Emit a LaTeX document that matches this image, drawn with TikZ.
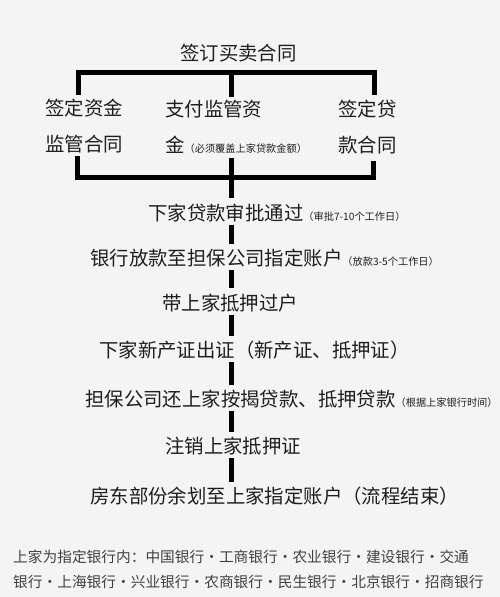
\documentclass[tikz,border=0pt]{standalone}
\usepackage{fontspec}
\setmainfont{Noto Sans CJK SC}
\usepackage{xcolor}
\usepackage{tikz}
\usetikzlibrary{arrows}
\tikzset{>=stealth'}

\definecolor{paper}{HTML}{F4F4F4}
\definecolor{ink}{HTML}{1E1E1E}
\newcommand{\tinynote}[1]{{\fontsize{10.2}{12}\selectfont #1}}

\begin{document}
\begin{tikzpicture}[x=1pt,y=-1pt,
                    bar/.style={line width=5pt, black, line join=miter},
                    flow/.style={line width=5pt, black, shorten <=3pt, shorten >=5pt},
                    stage/.style={anchor=west, inner sep=0pt, text height=16.5pt, text depth=1.5pt,
                                  text=ink, font=\fontsize{19.4}{23}\selectfont},
                    pair/.style={anchor=north west, inner sep=0pt, align=left,
                                 text=ink, font=\fontsize{19.4}{36}\selectfont},
                    banks/.style={anchor=north west, inner sep=0pt, align=left,
                                  text=ink!85, font=\fontsize{14.7}{25}\selectfont},
                   ]

\useasboundingbox[fill=paper] (0,0) rectangle (500,597);

% contracts
\node[stage] (sale) at (180,52.5) {签订买卖合同};

\node[pair] (escrow) at (45,99) {签定资金\\监管合同};
\node[pair] (fund) at (165,100) {支付监管资\\金\tinynote{（必须覆盖上家贷款金额）}};
\node[pair] (loan) at (338,100) {签定贷\\款合同};

\coordinate (tl) at (78.5,72.5);
\coordinate (tm) at (231.5,72.5);
\coordinate (tr) at (374.5,72.5);

\coordinate (bl) at (77.5,177.5);
\coordinate (bm) at (231.5,177.5);
\coordinate (br) at (373.5,177.5);

\draw[bar] ([yshift=4pt]tl |- escrow.north) -- (tl) -- (tr) -- ([yshift=5pt]tr |- loan.north);
\draw[bar] (tm) -- ([yshift=3pt]tm |- fund.north);

\draw[bar] ([yshift=-3pt]bl |- escrow.south) -- (bl) -- (br) -- ([yshift=-7pt]br |- loan.south);
\draw[bar] ([yshift=-4pt]bm |- fund.south) -- (bm);

% process
\node[stage] (approve) at (148,212.5) {下家贷款审批通过\tinynote{（审批7-10个工作日）}};
\node[stage] (release) at (90,258) {银行放款至担保公司指定账户\tinynote{（放款3-5个工作日）}};
\node[stage] (transfer) at (162,302.5) {带上家抵押过户};
\node[stage] (deed) at (99,350) {下家新产证出证（新产证、抵押证）};
\node[stage] (repay) at (85,399) {担保公司还上家按揭贷款、抵押贷款\tinynote{（根据上家银行时间）}};
\node[stage] (cancel) at (165,446) {注销上家抵押证};
\node[stage] (close) at (90,496) {房东部份余划至上家指定账户（流程结束）};

\draw[flow, shorten <=0pt] (bm) -- (bm |- approve.north);
\draw[flow] (approve.south -| bm) -- (release.north -| bm);
\draw[flow] (release.south -| bm) -- (transfer.north -| bm);
\draw[flow] (transfer.south -| bm) -- (deed.north -| bm);
\draw[flow] (deed.south -| bm) -- (repay.north -| bm);
\draw[flow] (repay.south -| bm) -- (cancel.north -| bm);
\draw[flow] (cancel.south -| bm) -- (close.north -| bm);

\node[banks] (note) at (13,550) {上家为指定银行内：中国银行・工商银行・农业银行・建设银行・交通\\银行・上海银行・兴业银行・农商银行・民生银行・北京银行・招商银行};

\end{tikzpicture}
\end{document}
